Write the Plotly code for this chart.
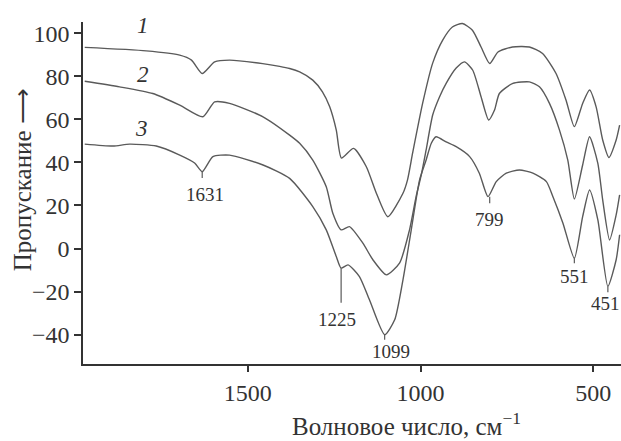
import plotly.graph_objects as go

# Wavenumber (cm^-1) and transmittance values
wn1 = [1972, 1794, 1697, 1663, 1632, 1596, 1553, 1457, 1408, 1379, 1350, 1312, 1284, 1263, 1244,
       1229, 1194, 1157, 1128, 1095, 1051, 1038, 1023, 994, 965, 936, 908, 879, 850, 825,
       800, 776, 734, 685, 647, 608, 579, 555, 531, 511, 492, 473, 455, 434, 424]
t1 = [93.4, 91.8, 89.8, 87.5, 81.3, 86.7, 87.5, 85.9, 84.6, 83.6, 82.0, 78.2, 72.8, 65.8, 55.0,
      42.0, 46.5, 38.0, 25.7, 14.8, 25.7, 31.8, 44.4, 67.5, 86.1, 96.8, 102.9, 104.5, 101.4, 93.6,
      85.9, 91.3, 93.6, 93.6, 90.6, 81.3, 68.9, 56.6, 67.4, 73.6, 65.8, 50.4, 42.3, 50.4, 57.3]

wn2 = [1972, 1871, 1775, 1697, 1630, 1596, 1553, 1456, 1379, 1350, 1312, 1273, 1254, 1230,
       1206, 1167, 1138, 1099, 1061, 1032, 1013, 998, 984, 965, 945, 926, 897, 873, 849, 825,
       803, 786, 772, 733, 685, 656, 627, 598, 574, 555, 531, 511, 487, 473, 453, 434, 424]
t2 = [77.7, 75.1, 72.0, 66.6, 61.2, 68.1, 67.4, 61.2, 52.7, 48.9, 41.1, 28.7, 16.4, 8.7,
      10.2, 2.5, -5.2, -12.2, -6.8, 8.7, 24.1, 34.2, 45.8, 62.0, 70.5, 76.7, 83.8, 86.7, 82.8, 70.5,
      59.7, 64.3, 72.0, 76.7, 77.4, 75.1, 67.4, 55.0, 41.1, 23.0, 38.8, 51.9, 39.6, 22.6, 4.0, 15.6, 24.9]

wn3 = [1972, 1890, 1842, 1765, 1697, 1654, 1632, 1601, 1553, 1456, 1379, 1312, 1273, 1244,
       1230, 1210, 1177, 1148, 1104, 1075, 1051, 1027, 1003, 984, 969, 955, 926, 897, 858, 830,
       805, 781, 752, 714, 675, 636, 617, 588, 555, 531, 511, 487, 458, 434, 424]
t3 = [48.5, 47.6, 48.5, 47.6, 43.4, 39.7, 35.7, 42.7, 43.4, 38.8, 32.6, 19.5, 8.7, -3.7,
      -9.1, -7.6, -13.0, -23.8, -40.0, -33.1, -14.5, 8.7, 31.8, 41.1, 48.9, 51.9, 49.5, 47.3, 42.7, 35.0,
      24.1, 31.1, 35.0, 36.5, 35.0, 31.1, 24.1, 11.8, -4.5, 14.8, 27.2, 13.3, -17.6, -5.2, 6.4]

# Peak labels: text, x, y of label, y where marker line starts, y where it ends
peak_text = ["1631", "1225", "1099", "799", "551", "451"]
peak_wn = [1632, 1230, 1104, 800, 555, 458]
peak_top = [35.7, -9.1, -40.0, 24.1, -4.5, -17.6]
peak_bot = [32.8, -25.2, -42.3, 21.0, -6.8, -20.3]
label_x = [1625, 1242, 1085, 800, 555, 466]
label_y = [24.9, -33.1, -47.9, 13.3, -13.1, -25.6]

curve_names = ["1", "2", "3"]
curve_lab_x = [1803, 1803, 1808]
curve_lab_y = [103.7, 81.0, 55.8]

xrange = [1977, 420]
yrange = [-53.6, 105.2]
xticks = [1500, 1000, 500]
yticks = [100, 80, 60, 40, 20, 0, -20, -40]

FONT = "Liberation Serif"
LINE_C = "#5a5a5a"
TXT_C = "#333"

fig = go.Figure()
for wn, t in [(wn1, t1), (wn2, t2), (wn3, t3)]:
    fig.add_trace(go.Scatter(x=wn, y=t, mode="lines",
                             line=dict(color=LINE_C, width=1.4, shape="spline", smoothing=0.6),
                             showlegend=False, hoverinfo="skip", cliponaxis=False))

for wn, a, b in zip(peak_wn, peak_top, peak_bot):
    fig.add_shape(type="line", x0=wn, x1=wn, y0=a, y1=b, xref="x", yref="y",
                  line=dict(color=LINE_C, width=1.2))

for txt, x, y in zip(peak_text, label_x, label_y):
    fig.add_annotation(x=x, y=y, text=txt, showarrow=False, xref="x", yref="y",
                       font=dict(family=FONT, size=19, color=TXT_C))

for txt, x, y in zip(curve_names, curve_lab_x, curve_lab_y):
    fig.add_annotation(x=x, y=y, text="<i>" + txt + "</i>", showarrow=False, xref="x", yref="y",
                       font=dict(family=FONT, size=23, color=TXT_C))

# Axis titles placed as annotations (paper coordinates)
fig.add_annotation(x=-0.113, y=0.538, xref="paper", yref="paper", text="Пропускание ⟶",
                   textangle=-90, showarrow=False, xanchor="center", yanchor="middle",
                   font=dict(family=FONT, size=25, color=TXT_C))
fig.add_annotation(x=0.602, y=-0.176, xref="paper", yref="paper",
                   text="Волновое число, см<sup>−1</sup>", showarrow=False,
                   xanchor="center", yanchor="middle",
                   font=dict(family=FONT, size=25, color=TXT_C))

fig.update_layout(
    width=621, height=441,
    margin=dict(l=83, r=0, t=22, b=77, autoexpand=False),
    paper_bgcolor="white", plot_bgcolor="white",
    font=dict(family=FONT, size=24, color=TXT_C),
)
fig.update_xaxes(range=xrange, tickvals=xticks, ticks="outside", ticklen=6, tickwidth=1.5,
                 tickcolor=TXT_C, showline=True, linecolor=TXT_C, linewidth=1.5,
                 showgrid=False, zeroline=False, automargin=False,
                 tickfont=dict(family=FONT, size=24, color=TXT_C))
fig.update_yaxes(range=yrange, tickvals=yticks, ticks="outside", ticklen=7, tickwidth=1.5,
                 tickcolor=TXT_C, showline=True, linecolor=TXT_C, linewidth=1.5,
                 showgrid=False, zeroline=False, automargin=False,
                 tickfont=dict(family=FONT, size=24, color=TXT_C))

# Remove the default page margin so the 621x441 figure fills the window exactly
fig.write_html("out.html", config={"displayModeBar": False},
               post_script="document.body.style.margin='0';document.body.style.overflow='hidden';")
